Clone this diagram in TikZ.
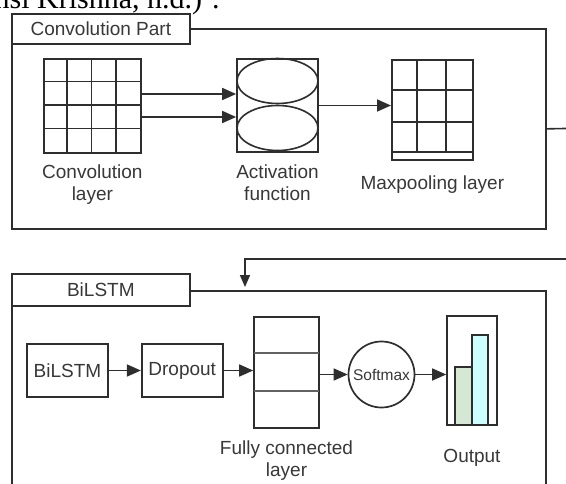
\documentclass[tikz,border=0pt]{standalone}
\usepackage{fontspec}
\setmainfont{Liberation Sans}
\newfontfamily\pageserif{Liberation Serif}
\usepackage{xcolor}
\usetikzlibrary{arrows.meta,shapes.geometric,positioning}
\definecolor{linegray}{HTML}{2E2E2E}
\definecolor{textgray}{HTML}{383838}
\definecolor{bargreen}{HTML}{D5E8D4}
\definecolor{barcyan}{HTML}{CCFFFF}
\tikzset{
  box/.style={draw=linegray, line width=1.7pt, inner sep=0pt},
  thin line/.style={draw=linegray, line width=1.6pt},
  flow/.style={draw=linegray, line width=1.7pt, -{Triangle[length=14pt,width=12pt]}},
  label text/.style={text=textgray, align=center, font=\fontsize{19}{22.5}\selectfont}
}

\begin{document}
\begin{tikzpicture}[x=1pt,y=-1pt]
\useasboundingbox (0,0) rectangle (566,483);
\clip (0,0) rectangle (566,483);
\fill[white] (0,0) rectangle (566,483);
% text of the page above the figure
\node[anchor=base west, inner sep=0, font=\pageserif\fontsize{30}{30}\selectfont] (pagetext) at (-5.5,8.5) {nsi Krishna, n.d.) .};

% convolution part
\node[box, minimum width=534, minimum height=200, anchor=north west] (convpart) at (11,28) {};
\node[box, fill=white, minimum width=178, minimum height=30, anchor=north west, label text] (convhead) at (11,13) {Convolution Part};

\node[box, minimum width=97, minimum height=94, anchor=north west] (convgrid) at (43,58) {};
\foreach \i in {1,2,3} {
  \draw[thin line] (43+\i*24.25,58) -- ++(0,94);
  \draw[thin line] (43,58+\i*23.5) -- ++(97,0);
}
\node[label text, below=7pt of convgrid] (convlabel) {Convolution\\layer};

\node[box, minimum width=81, minimum height=93] (actbox) at (277.5,105.5) {};
\node[ellipse, thin line, minimum width=81, minimum height=45, inner sep=0] (acttop) at (277.5,81) {};
\node[ellipse, thin line, minimum width=81, minimum height=45, inner sep=0] (actbottom) at (277.5,128) {};
\node[label text, below=8pt of actbox] (actlabel) {Activation\\function};

\node[box, minimum width=81, minimum height=100, anchor=north west] (poolgrid) at (391,59) {};
\draw[thin line] (417,59) -- (417,152);
\draw[thin line] (446,59) -- (446,152);
\foreach \y in {90,122,152}
  \draw[thin line] (391,\y) -- (472,\y);
\node[label text, below=11pt of poolgrid] (poollabel) {Maxpooling layer};

\coordinate (convout1) at (140,94);
\coordinate (convout2) at (140,117);
\draw[flow] (convout1) -- (actbox.west |- convout1);
\draw[flow] (convout2) -- (actbox.west |- convout2);
\draw[flow] (actbox.east) -- (actbox.east -| poolgrid.west);

% bilstm part
\node[box, minimum width=534, minimum height=230, anchor=north west] (lstmpart) at (11,290) {};
\node[box, fill=white, minimum width=178, minimum height=32, anchor=north west, label text] (lstmhead) at (11,273) {BiLSTM};

\coordinate (turnright) at (590,128);
\coordinate (turnleft) at (590,259);
\coordinate (lstmentry) at (245,287);
\draw[thin line, -{Triangle[length=12pt,width=10pt]}] (convpart.east) -- (turnright) -- (turnleft) -- (lstmentry |- turnleft) -- (lstmentry);

\node[box, minimum width=81, minimum height=53, label text] (bilstm) at (67.5,370.5) {BiLSTM};
\node[box, minimum width=81, minimum height=53, label text, right=32pt of bilstm] (dropout) {Dropout};

\node[box, minimum width=65, minimum height=111] (fcbox) at (286.5,372.5) {};
\draw[draw=linegray!75, line width=1.6pt] (254,353) -- (319,353);
\draw[draw=linegray!75, line width=1.6pt] (254,391) -- (319,391);
\node[label text, below=8pt of fcbox] (fclabel) {Fully connected\\layer};

\node[circle, box, minimum size=66, text=textgray, font=\fontsize{15.5}{18}\selectfont] (softmax) at (381.5,374.5) {Softmax};

\node[box, minimum width=50, minimum height=109] (outbox) at (472,370.5) {};
\draw[thin line, fill=bargreen] (455,425) rectangle (472,367);
\draw[thin line, fill=barcyan] (472,425) rectangle (488,335);
\node[label text] (outlabel) at (472,458) {Output};

\draw[flow] (bilstm) -- (dropout);
\draw[flow] (dropout.east) -- (dropout.east -| fcbox.west);
\draw[flow] (fcbox.east |- softmax) -- (softmax);
\draw[flow] (softmax) -- (softmax -| outbox.west);
\end{tikzpicture}
\end{document}
